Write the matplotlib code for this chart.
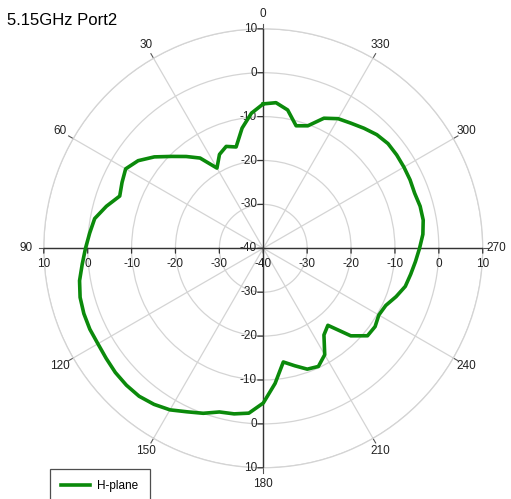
import numpy as np
import matplotlib.pyplot as plt

plt.rcParams['font.family'] = ['Liberation Sans', 'DejaVu Sans']

# H-plane pattern, 5 degree steps (degrees, dB)
angles = list(range(0, 360, 5))
gain = [-7.1, -9.1, -12.2, -16.1, -15.3, -16.4, -18.9, -14.9, -12.7, -10.4,
        -7.6, -5.2, -3.8, -4.5, -5.2, -3.0, -1.0, -0.3, 0.5, 1.4,
        2.5, 3.2, 3.5, 3.6, 3.5, 3.7, 4.0, 4.1, 4.0, 3.4,
        2.5, 1.1, 0.0, -1.4, -1.7, -2.3, -4.75, -9.1, -13.7, -12.3,
        -10.7, -10.3, -12.0, -15.9, -17.1, -11.8, -9.0, -8.9, -9.6, -9.2,
        -7.8, -6.5, -5.9, -5.2, -4.4, -3.5, -3.0, -3.0, -3.3, -3.1,
        -3.0, -2.9, -2.9, -3.4, -4.3, -5.2, -5.9, -7.3, -10.3, -11.1,
        -8.0, -6.7]
ring_vals = [-40, -30, -20, -10, 0, 10]
spoke_angles = list(range(0, 360, 30))

fig = plt.figure(figsize=(5.11, 4.99), dpi=100)
ax = fig.add_axes([0.0857, 0.0625, 0.859, 0.8798], projection='polar')
ax.set_theta_zero_location('N')
ax.set_theta_direction(1)
ax.set_ylim(-40, 10)

grid_col = '#d4d4d4'
ax.set_yticks(ring_vals[1:])
ax.set_yticklabels([])
ax.set_xticks(np.radians(spoke_angles))
ax.set_xticklabels([])
ax.grid(True, color=grid_col, linewidth=0.9)
ax.spines['polar'].set_color(grid_col)
ax.spines['polar'].set_linewidth(0.9)

# spoke end ticks and angle labels
for a in spoke_angles:
    t = np.radians(a)
    ax.plot([t, t], [10, 11.2], color='#555555', lw=0.8, clip_on=False)
    if a not in (0, 90, 180, 270):
        ax.text(t, 13.4, str(a), ha='center', va='center', fontsize=8.5,
                color='#222222')
ax.text(0, 13.3, '0', ha='center', va='center', fontsize=8.5, color='#222222')
ax.text(np.pi, 13.8, '180', ha='center', va='center', fontsize=8.5, color='#222222')
ax.text(np.pi / 2, 14.0, '90', ha='center', va='center', fontsize=8.5, color='#222222')
ax.text(3 * np.pi / 2, 13.2, '270', ha='center', va='center', fontsize=8.5, color='#222222')

# black cross axes
axis_col = '#333333'
for a in (0, 90, 180, 270):
    t = np.radians(a)
    ax.plot([t, t], [-40, 10], color=axis_col, lw=1.0, zorder=3)

# ticks and labels on the vertical axis (left side)
for a in (0, 180):
    t = np.radians(a)
    for r in ring_vals:
        if a == 180 and r == -40:
            continue
        ax.annotate('', xy=(t, r), xytext=(-4, 0), textcoords='offset points',
                    arrowprops=dict(arrowstyle='-', color=axis_col, lw=0.9,
                                    shrinkA=0, shrinkB=0))
        ax.annotate(str(r), xy=(t, r), xytext=(-4.5, 0), textcoords='offset points',
                    ha='right', va='center', fontsize=8.5, color='#222222')

# ticks and labels on the horizontal axis (below)
for a in (90, 270):
    t = np.radians(a)
    for r in ring_vals:
        if a == 270 and r == -40:
            continue
        ax.annotate('', xy=(t, r), xytext=(0, -3.5), textcoords='offset points',
                    arrowprops=dict(arrowstyle='-', color=axis_col, lw=0.9,
                                    shrinkA=0, shrinkB=0))
        ax.annotate(str(r), xy=(t, r), xytext=(0, -7), textcoords='offset points',
                    ha='center', va='top', fontsize=8.5, color='#222222')

theta = np.radians(angles + [angles[0]])
vals = gain + [gain[0]]
ax.plot(theta, vals, color='#0b8a0b', lw=2.6, label='H-plane', zorder=4)

fig.text(0.014, 0.958, '5.15GHz Port2', fontsize=12, ha='left', va='center')

leg = fig.legend(loc='upper left', bbox_to_anchor=(0.098, 0.06), fontsize=8.5,
                 frameon=True, fancybox=False, edgecolor='#222222',
                 handlelength=2.4, handletextpad=0.65, borderpad=0.95,
                 borderaxespad=0)
leg.get_frame().set_linewidth(0.9)

fig.savefig('out.png', dpi=100)
